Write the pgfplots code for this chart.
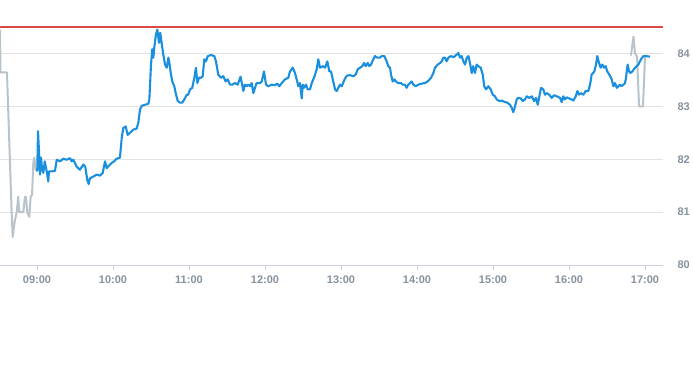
\documentclass[border=0pt]{standalone}
\usepackage{pgfplots}
\pgfplotsset{compat=1.18}
\usepackage{fontspec}
\setmainfont{Liberation Sans}
\definecolor{lineblue}{HTML}{1A8FDD}
\definecolor{greyline}{HTML}{B9C3CC}
\definecolor{gridc}{HTML}{E3E3E3}
\definecolor{axisc}{HTML}{CCD3DA}
\definecolor{labc}{HTML}{86929E}
\definecolor{refred}{HTML}{DB4A44}
\begin{document}
\begin{tikzpicture}
\useasboundingbox (0,-100pt) rectangle (693pt,265pt);
\begin{axis}[
  scale only axis, width=663pt, height=238pt,
  xmin=-29.2, xmax=494.2, ymin=80, ymax=84.5,
  axis x line*=bottom, axis y line*=right,
  axis line style={draw=none},
  xtick={0,60,120,180,240,300,360,420,480},
  xticklabels={09:00,10:00,11:00,12:00,13:00,14:00,15:00,16:00,17:00},
  ytick={80,81,82,83,84},
  yticklabels={80,81,82,83,84},
  yticklabel pos=right,
  ymajorgrids,
  major grid style={gridc, line width=0.8pt},
  tick align=outside,
  x tick style={draw=axisc, line width=0.8pt},
  major tick length=5pt,
  y tick style={draw=none},
  ticklabel style={font=\fontsize{11}{13}\selectfont\bfseries, text=labc},
  xticklabel style={yshift=-2pt},
  yticklabel style={anchor=west, xshift=6pt},
  clip=false,
]
\addplot[axisc, line width=0.8pt, forget plot] coordinates {(-29.2,80) (494.2,80)};
\addplot[refred, line width=1.1pt, forget plot] coordinates {(-29.2,84.5) (494.2,84.5)};
\addplot[greyline, line width=2pt, line join=round] coordinates {
(-29.2,84.45) (-28.8,83.64) (-23.7,83.64) (-20.0,80.99) (-19.2,80.53) (-17.4,80.85)
(-16.0,81.00) (-14.8,81.29) (-14.0,81.00) (-10.8,81.00) (-9.5,81.29) (-8.7,81.29)
(-7.7,81.00) (-6.1,80.91) (-5.0,81.29) (-3.9,81.33) (-2.9,81.93) (-2.1,82.03)
(-1.0,81.80) (-0.2,81.80) (0.2,81.77)
};
\addplot[greyline, line width=2pt, line join=round] coordinates {
(468.9,83.96) (470.9,84.32) (472.1,84.00) (473.7,83.94) (475.3,83.00) (478.4,83.00) (480.0,83.94)
};
\addplot[lineblue, line width=2.1pt, line join=round] coordinates {
(0.2,81.77) (0.8,82.53) (1.6,82.15) (2.4,81.71) (3.2,82.03) (3.9,81.84) (5.0,81.74)
(6.1,81.96) (7.7,81.77) (8.9,81.58) (9.5,81.77) (11.6,81.77) (14.2,81.78) (15.6,81.99)
(18.2,81.96) (20.8,82.01) (23.4,81.99) (26.1,82.02) (27.4,81.96) (28.7,81.99) (31.3,81.86)
(33.9,81.80) (36.6,81.90) (38.1,81.86) (39.7,81.61) (40.8,81.53) (41.8,81.64) (44.4,81.67)
(47.1,81.71) (49.7,81.69) (51.9,81.74) (53.7,81.96) (55.0,81.83) (57.6,81.90) (59.0,81.93)
(60.8,81.96) (62.9,82.01) (65.5,82.03) (66.9,82.40) (68.1,82.59) (70.0,82.62) (71.6,82.46)
(73.4,82.50) (76.0,82.56) (78.7,82.58) (80.0,82.69) (80.8,82.84) (81.3,82.94) (82.7,83.01)
(85.3,83.03) (87.9,83.05) (88.7,83.13) (90.0,83.79) (91.0,84.08) (91.8,83.92) (92.6,84.11)
(93.9,84.36) (95.0,84.45) (95.8,84.30) (96.3,84.20) (97.3,84.39) (98.4,84.20) (99.7,83.98)
(101.1,83.79) (102.4,83.73) (103.7,83.92) (104.5,83.82) (105.6,83.63) (106.8,83.47) (108.4,83.38)
(109.5,83.25) (111.1,83.10) (112.9,83.07) (114.7,83.07) (116.3,83.13) (118.2,83.22) (119.4,83.22)
(120.8,83.32) (122.6,83.35) (124.2,83.54) (125.5,83.73) (126.6,83.44) (127.9,83.54) (129.5,83.54)
(130.8,83.57) (132.1,83.89) (133.4,83.85) (134.8,83.95) (137.4,83.97) (140.0,83.95) (141.3,83.85)
(143.1,83.60) (145.3,83.54) (147.1,83.57) (149.0,83.47) (150.6,83.51) (152.4,83.41) (154.2,83.41)
(156.3,83.44) (158.4,83.41) (160.7,83.56) (161.8,83.43) (162.9,83.29) (164.2,83.41) (165.5,83.38)
(166.8,83.41) (168.2,83.38) (169.5,83.44) (170.8,83.25) (172.1,83.35) (173.4,83.44) (176.1,83.44)
(177.4,83.47) (179.2,83.66) (180.8,83.41) (182.6,83.38) (185.3,83.41) (187.9,83.40) (189.7,83.43)
(191.3,83.38) (193.2,83.44) (195.8,83.51) (198.4,83.54) (199.7,83.66) (201.9,83.73) (203.7,83.63)
(205.0,83.51) (206.3,83.38) (207.6,83.44) (209.0,83.15) (209.8,83.41) (210.8,83.35) (212.4,83.41)
(213.7,83.32) (215.5,83.32) (216.9,83.44) (218.7,83.54) (220.8,83.70) (222.1,83.89) (223.4,83.73)
(225.6,83.76) (227.4,83.73) (229.2,83.85) (230.8,83.66) (232.1,83.66) (233.9,83.47) (235.3,83.32)
(236.6,83.29) (237.9,83.35) (239.2,83.41) (240.6,83.38) (243.2,83.53) (244.7,83.58) (247.1,83.59)
(249.7,83.57) (251.6,83.60) (253.2,83.70) (255.0,83.73) (256.8,83.76) (258.2,83.82) (259.5,83.76)
(261.1,83.82) (262.3,83.76) (263.7,83.79) (265.5,83.89) (266.8,83.95) (268.7,83.92) (270.8,83.92)
(272.1,83.95) (274.2,83.95) (276.1,83.85) (277.3,83.76) (278.7,83.73) (279.5,83.60) (280.8,83.47)
(282.1,83.51) (283.4,83.47) (285.2,83.44) (287.4,83.44) (288.7,83.41) (290.5,83.41) (291.8,83.35)
(293.1,83.41) (294.5,83.44) (295.8,83.47) (297.1,83.41) (299.0,83.38) (301.0,83.41) (303.7,83.43)
(306.3,83.44) (308.4,83.47) (311.1,83.54) (312.9,83.63) (314.2,83.73) (316.4,83.79) (318.2,83.82)
(319.5,83.85) (320.8,83.92) (322.1,83.92) (323.4,83.85) (324.7,83.92) (326.8,83.95) (328.7,83.93)
(330.0,83.95) (331.4,83.98) (332.6,84.01) (334.0,83.92) (335.3,83.95) (336.6,83.85) (337.9,83.79)
(339.3,83.92) (340.6,83.95) (341.8,83.82) (343.2,83.63) (344.4,83.76) (345.8,83.63) (347.1,83.79)
(348.4,83.76) (350.3,83.73) (351.9,83.60) (353.1,83.38) (354.5,83.32) (356.3,83.38) (358.2,83.32)
(359.8,83.22) (361.6,83.19) (362.9,83.13) (365.0,83.10) (366.9,83.11) (369.5,83.08) (371.3,83.07)
(373.4,83.03) (374.8,82.97) (376.0,82.89) (377.4,83.00) (378.7,83.13) (380.0,83.16) (381.9,83.15)
(383.4,83.10) (385.3,83.13) (386.6,83.19) (388.7,83.16) (390.6,83.19) (392.4,83.10) (393.9,83.16)
(395.3,83.03) (396.6,83.19) (397.9,83.35) (399.7,83.32) (401.0,83.22) (402.4,83.25) (404.4,83.22)
(406.3,83.16) (408.2,83.21) (410.3,83.19) (412.9,83.16) (414.2,83.08) (415.5,83.19) (416.8,83.13)
(418.2,83.17) (420.0,83.15) (422.1,83.13) (423.4,83.11) (425.3,83.19) (426.6,83.29) (427.9,83.22)
(429.5,83.25) (431.3,83.22) (433.2,83.29) (435.3,83.29) (436.6,83.41) (437.9,83.60) (440.0,83.66)
(441.3,83.79) (442.3,83.95) (443.7,83.82) (445.0,83.73) (446.3,83.79) (447.6,83.73) (448.9,83.76)
(450.2,83.66) (451.8,83.60) (453.7,83.51) (455.0,83.38) (456.3,83.44) (457.7,83.35) (458.9,83.38)
(460.3,83.41) (461.6,83.38) (462.9,83.41) (464.2,83.44) (465.0,83.54) (466.3,83.79) (467.4,83.66)
(468.4,83.63) (470.0,83.66) (472.1,83.73) (474.7,83.79) (476.8,83.89) (478.7,83.95) (480.5,83.95)
(483.9,83.94)
};
\end{axis}
\end{tikzpicture}
\end{document}
